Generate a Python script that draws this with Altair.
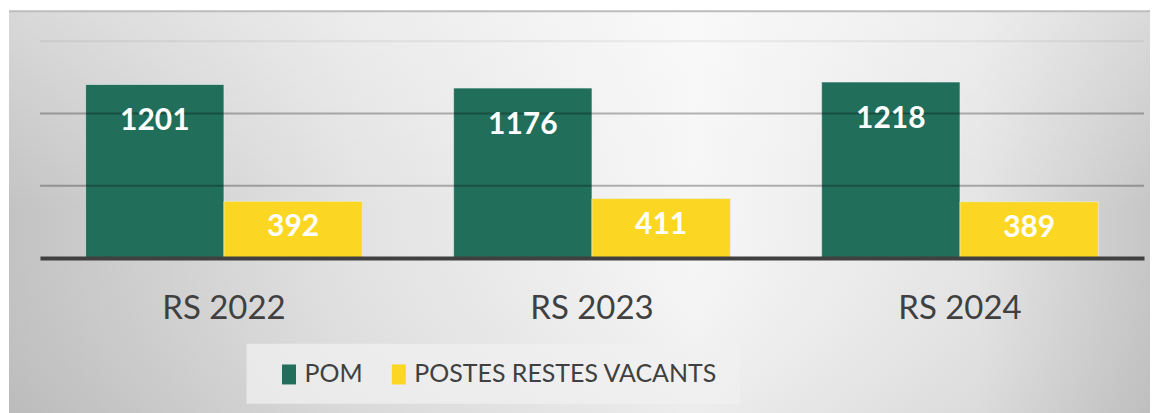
import altair as alt
import pandas as pd

categories = ["RS 2022", "RS 2023", "RS 2024"]
pom = [1201, 1176, 1218]
vacants = [392, 411, 389]
series = ["POM", "POSTES RESTES VACANTS"]
grid_values = [500, 1000, 1500]

rows = []
for c, p, v in zip(categories, pom, vacants):
    rows.append({"cat": c, "serie": series[0], "val": p})
    rows.append({"cat": c, "serie": series[1], "val": v})
df = pd.DataFrame(rows)
grid_df = pd.DataFrame({"g": grid_values})
one = pd.DataFrame({"k": [0]})

W, H = 1106, 217
GREEN = "#216e5b"
YELLOW = "#fbd723"
BOTTOM = H + 156
RIGHT = W + 6

x_enc = alt.X("cat:N", sort=categories,
              scale=alt.Scale(paddingInner=0, paddingOuter=0),
              axis=alt.Axis(title=None, labelAngle=0, ticks=False, labelPadding=35,
                            labelFont="Lato", labelFontSize=33, labelColor="#404040",
                            domainColor="#404040", domainWidth=4, zindex=2, grid=False))
xo_enc = alt.XOffset("serie:N", sort=series,
                     scale=alt.Scale(paddingInner=0, paddingOuter=0.33))
y_enc = alt.Y("val:Q", scale=alt.Scale(domain=[0, 1500], nice=False), axis=None)

bg = alt.Chart(one).mark_rect(
    fill={"gradient": "linear", "x1": 0, "y1": 0, "x2": 1, "y2": 0,
          "stops": [{"offset": 0, "color": "#c3c3c3"},
                    {"offset": 0.3, "color": "#e2e2e2"},
                    {"offset": 0.6, "color": "#f6f6f6"},
                    {"offset": 0.85, "color": "#e4e4e4"},
                    {"offset": 1, "color": "#c6c6c6"}]}
).encode(x=alt.value(-31), x2=alt.value(RIGHT), y=alt.value(-30), y2=alt.value(BOTTOM))

bg2 = alt.Chart(one).mark_rect(
    fill={"gradient": "linear", "x1": 0, "y1": 0, "x2": 0, "y2": 1,
          "stops": [{"offset": 0, "color": "rgba(255,255,255,0.35)"},
                    {"offset": 0.5, "color": "rgba(255,255,255,0.0)"},
                    {"offset": 1, "color": "rgba(0,0,0,0.04)"}]}
).encode(x=alt.value(-31), x2=alt.value(RIGHT), y=alt.value(-30), y2=alt.value(BOTTOM))

topline = alt.Chart(one).mark_rule(color="#bdbdbd", strokeWidth=2).encode(
    x=alt.value(-31), x2=alt.value(RIGHT), y=alt.value(-30))

legbox = alt.Chart(one).mark_rect(fill="#f0f0f0", opacity=0.75).encode(
    x=alt.value(207), x2=alt.value(701), y=alt.value(303), y2=alt.value(363))

bars = alt.Chart(df).mark_bar(stroke="#e6f2ee", strokeWidth=1, strokeOpacity=0.6).encode(
    x=x_enc, xOffset=xo_enc, y=y_enc,
    color=alt.Color("serie:N", sort=series,
                    scale=alt.Scale(domain=series, range=[GREEN, YELLOW]),
                    legend=alt.Legend(title=None, orient="none", legendX=237, legendY=321,
                                      direction="horizontal",
                                      symbolType="M-0.7,-1H0.7V1H-0.7Z", symbolSize=400,
                                      symbolStrokeWidth=0,
                                      labelFont="Lato", labelFontSize=25, labelLimit=0,
                                      labelColor="#404040", labelOffset=3,
                                      columnPadding=23, padding=0))
)

grid = alt.Chart(grid_df).mark_rule(color="black", strokeWidth=2).encode(
    y=alt.Y("g:Q", scale=alt.Scale(domain=[0, 1500], nice=False), axis=None),
    opacity=alt.condition("datum.g >= 1500", alt.value(0.06), alt.value(0.28)),
)

txt_pom = alt.Chart(df).transform_filter(alt.datum.serie == series[0]).mark_text(
    color="white", font="Lato", fontWeight="bold", fontSize=30, baseline="middle", dy=37
).encode(x=x_enc, xOffset=xo_enc, y=y_enc, text="val:Q")

txt_vac = alt.Chart(df).transform_filter(alt.datum.serie == series[1]).mark_text(
    color="white", font="Lato", fontWeight="bold", fontSize=30, baseline="middle", dy=26
).encode(x=x_enc, xOffset=xo_enc, y=y_enc, text="val:Q")

chart = alt.layer(bg, bg2, topline, legbox, bars, grid, txt_pom, txt_vac).properties(
    width=W, height=H,
    padding={"left": 0, "top": 2, "right": 0, "bottom": 0},
).configure_view(stroke=None).configure(background="white")

chart.save("out.html", embed_options={"renderer": "svg", "actions": False})
